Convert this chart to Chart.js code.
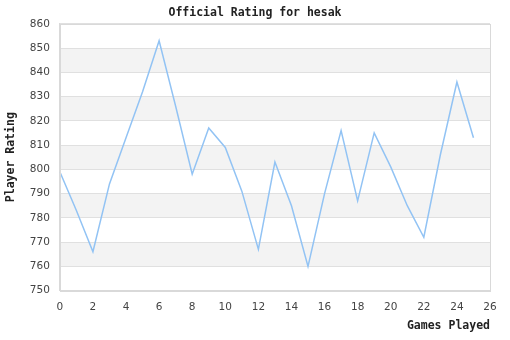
<!DOCTYPE html>
<html>
<head>
<meta charset="utf-8">
<script src="https://cdn.jsdelivr.net/npm/chart.js@4.4.0/dist/chart.umd.min.js"></script>
<style>
  html, body { margin: 0; padding: 0; background: #fff; }
</style>
</head>
<body>
<canvas id="rating-chart" width="510" height="340"></canvas>
<script>
// rating after each game
const games = [0, 1, 2, 3, 4, 5, 6, 7, 8, 9, 10, 11, 12, 13, 14, 15, 16, 17, 18, 19, 20, 21, 22, 23, 24, 25];
const ratings = [799, 783, 766, 794, 813, 832, 853, 826, 798, 817, 809, 791, 767, 803, 785, 760, 790, 816, 787, 815, 801, 785, 772, 806, 836, 813];
// shaded rows of the background
const bands = [[760, 770], [780, 790], [800, 810], [820, 830], [840, 850]];

const monoBold = { family: "'DejaVu Sans Mono', monospace", size: 11.5, weight: 'bold' };
const tickFont = { family: "'DejaVu Sans', sans-serif", size: 10.5 };

// grey stripes + box around the plot
const stripes = {
    id: 'stripes',
    beforeDraw(chart) {
        const { ctx, chartArea, scales } = chart;
        ctx.save();
        ctx.fillStyle = '#f3f3f3';
        bands.forEach(b => {
            const y1 = scales.y.getPixelForValue(b[1]);
            const y0 = scales.y.getPixelForValue(b[0]);
            ctx.fillRect(chartArea.left, y1, chartArea.right - chartArea.left, y0 - y1);
        });
        ctx.restore();
    },
    afterDraw(chart) {
        const { ctx, chartArea } = chart;
        ctx.save();
        ctx.strokeStyle = '#d9d9d9';
        ctx.lineWidth = 1;
        ctx.strokeRect(Math.round(chartArea.left) + 0.5, Math.round(chartArea.top) + 0.5,
            Math.round(chartArea.right - chartArea.left), Math.round(chartArea.bottom - chartArea.top));
        ctx.restore();
    }
};

new Chart(document.getElementById("rating-chart"), {
    type: 'line',
    data: {
        datasets: [
            {
                label: "Rating",
                data: games.map((g, i) => ({ x: g, y: ratings[i] })),
                borderColor: "#92c3f4",
                borderWidth: 1.5,
                pointRadius: 0,
                tension: 0,
                fill: false
            }
        ]
    },
    options: {
        responsive: false,
        animation: false,
        devicePixelRatio: 1,
        layout: { padding: { left: 0, right: 0, top: 0, bottom: 3 } },
        plugins: {
            legend: { display: false },
            tooltip: { enabled: false },
            title: {
                display: true,
                text: 'Official Rating for hesak',
                color: '#222',
                font: monoBold,
                padding: { top: 6, bottom: 4 }
            }
        },
        scales: {
            x: {
                type: 'linear',
                min: 0,
                max: 26,
                ticks: { stepSize: 2, autoSkip: false, color: '#444', font: tickFont, padding: 2, maxRotation: 0 },
                grid: { display: false },
                border: { color: '#d9d9d9' },
                title: { display: true, text: 'Games Played', align: 'end', color: '#222', font: monoBold, padding: { top: 4 } },
                // keep a 20px gutter right of the plot so the title stays centred on the page
                afterFit(scale) { scale.paddingRight = 20; }
            },
            y: {
                min: 750,
                max: 860,
                ticks: { stepSize: 10, autoSkip: false, color: '#444', font: tickFont, padding: 10 },
                grid: { color: '#e0e0e0', drawTicks: false },
                border: { color: '#d9d9d9' },
                title: { display: true, text: 'Player Rating', color: '#222', font: monoBold, padding: { bottom: 2 } }
            }
        }
    },
    plugins: [stripes]
});
</script>
</body>
</html>
